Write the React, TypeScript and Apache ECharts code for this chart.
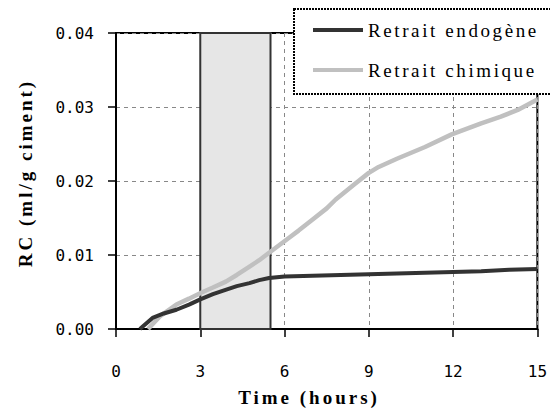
import React, { useEffect, useRef } from "react";
import * as echarts from "echarts";

const xTicks = [0, 3, 6, 9, 12, 15];
const yTicks = [0, 0.01, 0.02, 0.03, 0.04];

const endogeneX = [0.85, 1.3, 1.7, 2.15, 2.6, 3.0, 3.45, 3.9, 4.3, 4.75, 5.1, 5.45, 6, 7, 8, 9, 10, 11, 12, 13, 14, 15];
const endogeneY = [0, 0.0015, 0.0021, 0.0026, 0.0033, 0.004, 0.0047, 0.0053, 0.0058, 0.0062, 0.0066, 0.0069, 0.0071, 0.0072, 0.0073, 0.0074, 0.0075, 0.0076, 0.0077, 0.0078, 0.008, 0.0081];

const chimiqueX = [1.14, 1.56, 2.15, 2.6, 3.03, 3.45, 3.91, 4.3, 4.74, 5.1, 5.45, 6.15, 6.5, 7, 7.5, 7.82, 8.5, 9, 9.35, 10, 11, 11.95, 13, 13.7, 14.3, 15];
const chimiqueY = [0, 0.0017, 0.0033, 0.0041, 0.0049, 0.0056, 0.0064, 0.0073, 0.0084, 0.0093, 0.0103, 0.0123, 0.0133, 0.0148, 0.0163, 0.0175, 0.0196, 0.0211, 0.0219, 0.023, 0.0246, 0.0263, 0.0278, 0.0287, 0.0296, 0.031];

const shadeStart = 3;
const shadeEnd = 5.5;

const zip = (xs: number[], ys: number[]) => xs.map((x, i) => [x, ys[i]]);

const css = `
svg text[style*="LegendFace"], svg text[font-family*="LegendFace"] { letter-spacing: 2.6px; }
svg text[style*="TitleFace"], svg text[font-family*="TitleFace"] { letter-spacing: 3px; }
`;

export default function App() {
  const ref = useRef<HTMLDivElement>(null);
  useEffect(() => {
    if (!ref.current) return;
    const chart = echarts.init(ref.current, null, { renderer: "svg" });
    chart.setOption({
      animation: false,
      backgroundColor: "#fff",
      grid: {
        left: 116,
        right: 10,
        top: 33,
        bottom: 82,
        show: true,
        borderColor: "#000",
        borderWidth: 2,
        backgroundColor: "transparent",
      },
      xAxis: {
        type: "value",
        min: xTicks[0],
        max: xTicks[xTicks.length - 1],
        interval: 3,
        axisLine: { show: true, lineStyle: { color: "#000", width: 2 } },
        axisTick: { show: true, inside: false, length: 8, lineStyle: { color: "#000", width: 1.5 } },
        axisLabel: {
          margin: 34,
          color: "#000",
          fontFamily: "DejaVu Sans Mono",
          fontSize: 16,
        },
        splitLine: { show: true, lineStyle: { color: "#888", type: [4, 4], width: 1 } },
      },
      yAxis: {
        type: "value",
        min: yTicks[0],
        max: yTicks[yTicks.length - 1],
        interval: 0.01,
        axisLine: { show: true, lineStyle: { color: "#000", width: 2 } },
        axisTick: { show: true, inside: false, length: 8, lineStyle: { color: "#000", width: 1.5 } },
        axisLabel: {
          margin: 22,
          color: "#000",
          fontFamily: "DejaVu Sans Mono",
          fontSize: 16,
          formatter: (v: number) => v.toFixed(2),
        },
        splitLine: { show: true, lineStyle: { color: "#888", type: [4, 4], width: 1 } },
      },
      legend: {
        data: ["Retrait endogène", "Retrait chimique"],
        orient: "vertical",
        left: 294,
        top: 9,
        padding: [9, 10, 12, 19],
        itemGap: 16,
        itemWidth: 50,
        itemHeight: 4,
        icon: "rect",
        backgroundColor: "transparent",
        borderWidth: 0,
        textStyle: {
          fontFamily: "Liberation Serif, LegendFace, serif",
          fontSize: 19,
          color: "#000",
          lineHeight: 24,
        },
        z: 10,
      },
      graphic: [
        {
          type: "rect",
          z: 9,
          shape: { x: 294, y: 9, width: 300, height: 85 },
          style: { fill: "#fff", stroke: "#000", lineWidth: 2, lineDash: [2, 1] },
        },
        {
          type: "text",
          x: 25,
          y: 173,
          rotation: Math.PI / 2,
          style: {
            text: "RC (ml/g ciment)",
            fontFamily: "Liberation Serif, TitleFace, serif",
            fontWeight: "bold",
            fontSize: 19,
            fill: "#000",
            textAlign: "center",
            textVerticalAlign: "middle",
          },
        },
        {
          type: "text",
          x: 309,
          y: 397,
          style: {
            text: "Time (hours)",
            fontFamily: "Liberation Serif, TitleFace, serif",
            fontWeight: "bold",
            fontSize: 19,
            fill: "#000",
            textAlign: "center",
            textVerticalAlign: "middle",
          },
        },
      ],
      series: [
        {
          name: "Retrait chimique",
          type: "line",
          showSymbol: false,
          data: zip(chimiqueX, chimiqueY),
          lineStyle: { color: "#c0c0c0", width: 4.5 },
          itemStyle: { color: "#c0c0c0" },
          z: 3,
          markArea: {
            silent: true,
            itemStyle: {
              color: "#e6e6e6",
              borderColor: "#333",
              borderWidth: 2,
            },
            data: [[{ xAxis: shadeStart, yAxis: yTicks[yTicks.length - 1] }, { xAxis: shadeEnd, yAxis: yTicks[0] }]],
          },
        },
        {
          name: "Retrait endogène",
          type: "line",
          showSymbol: false,
          data: zip(endogeneX, endogeneY),
          lineStyle: { color: "#333333", width: 4 },
          itemStyle: { color: "#333333" },
          z: 4,
        },
      ],
    });
    return () => chart.dispose();
  }, []);
  return (
    <>
      <style>{css}</style>
      <div ref={ref} style={{ position: "fixed", left: 0, top: 0, width: 550, height: 411 }} />
    </>
  );
}
